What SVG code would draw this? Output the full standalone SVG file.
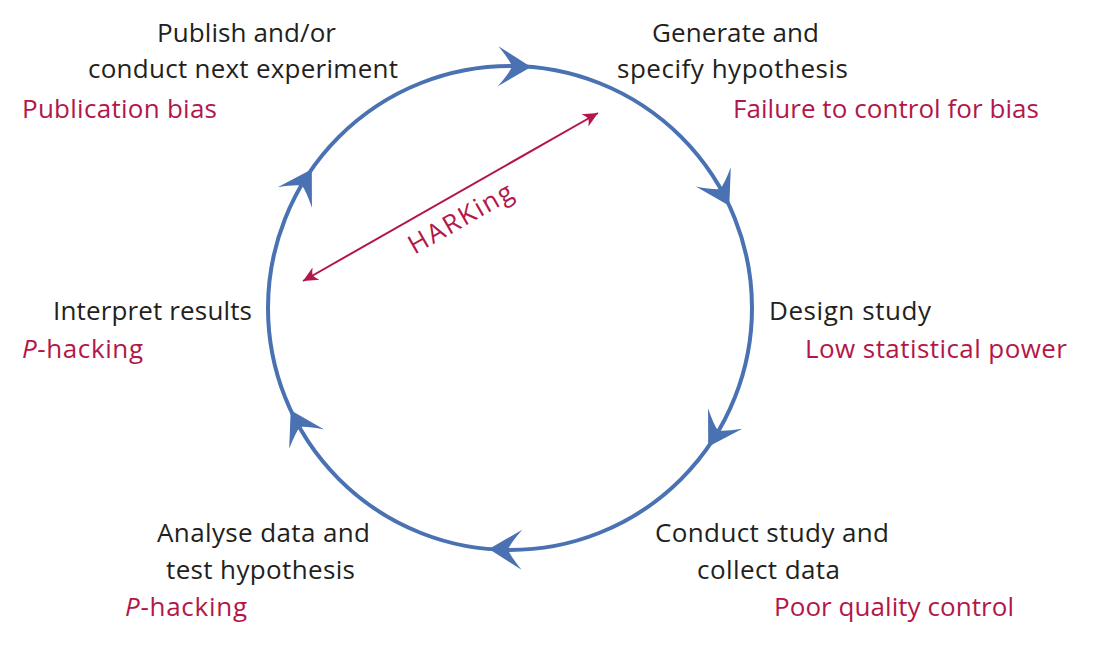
<svg xmlns="http://www.w3.org/2000/svg" width="1120" height="647" viewBox="0 0 1120 647">
<style>
  text { font-family: "Open Sans", "Liberation Sans", sans-serif; font-size: 26px; }
  .lbl { fill: #231f20; }
  .bias { fill: #b3174a; }
  .cycle { fill: none; stroke: #4a72b2; stroke-width: 4; }
  .head { fill: #4a72b2; }
  .hark { stroke: #b3174a; stroke-width: 2; fill: none; }
</style>
<defs>
  <path id="bh" d="M0,0 L-33,-20 Q-22,-7 -19,0 Q-22,7 -33,20 Z"/>
  <marker id="rh" markerUnits="userSpaceOnUse" markerWidth="20" markerHeight="16" refX="15" refY="7" orient="auto-start-reverse" viewBox="0 0 20 14">
    <path d="M15,7 L0,0 Q3,4 4,7 Q3,10 0,14 Z" fill="#b3174a"/>
  </marker>
</defs>
<rect width="1120" height="647" fill="#ffffff"/>

<g id="connectors">
  <circle class="cycle" cx="510" cy="308" r="242"/>
  <use href="#bh" class="head" transform="translate(531.1,66.9) rotate(1)"/>
  <use href="#bh" class="head" transform="translate(729.3,205.7) rotate(61)"/>
  <use href="#bh" class="head" transform="translate(708.2,446.8) rotate(121)"/>
  <use href="#bh" class="head" transform="translate(488.9,549.1) rotate(181)"/>
  <use href="#bh" class="head" transform="translate(290.7,410.3) rotate(241)"/>
  <use href="#bh" class="head" transform="translate(311.8,169.2) rotate(301)"/>
  <line class="hark" x1="303" y1="281" x2="598" y2="113" marker-start="url(#rh)" marker-end="url(#rh)"/>
  <text class="bias" x="465" y="226" text-anchor="middle" textLength="116" transform="rotate(-29.7 465 226)">HARKing</text>
</g>

<g id="publish">
  <text class="lbl" x="157" y="42" textLength="179">Publish and/or</text>
  <text class="lbl" x="88" y="78" textLength="310">conduct next experiment</text>
  <text class="bias" x="22" y="118" textLength="195">Publication bias</text>
</g>

<g id="generate">
  <text class="lbl" x="652" y="42" textLength="167">Generate and</text>
  <text class="lbl" x="617" y="78" textLength="231">specify hypothesis</text>
  <text class="bias" x="733" y="118" textLength="306">Failure to control for bias</text>
</g>

<g id="design">
  <text class="lbl" x="769" y="320" textLength="162">Design study</text>
  <text class="bias" x="805" y="358" textLength="262">Low statistical power</text>
</g>

<g id="conduct">
  <text class="lbl" x="655" y="542" textLength="234">Conduct study and</text>
  <text class="lbl" x="697" y="579" textLength="143">collect data</text>
  <text class="bias" x="774" y="616" textLength="240">Poor quality control</text>
</g>

<g id="analyse">
  <text class="lbl" x="157" y="542" textLength="213">Analyse data and</text>
  <text class="lbl" x="166" y="579" textLength="189">test hypothesis</text>
  <text class="bias" x="125" y="616" textLength="122"><tspan font-style="italic">P</tspan>-hacking</text>
</g>

<g id="interpret">
  <text class="lbl" x="53" y="320" textLength="199">Interpret results</text>
  <text class="bias" x="22" y="358" textLength="121"><tspan font-style="italic">P</tspan>-hacking</text>
</g>
</svg>
